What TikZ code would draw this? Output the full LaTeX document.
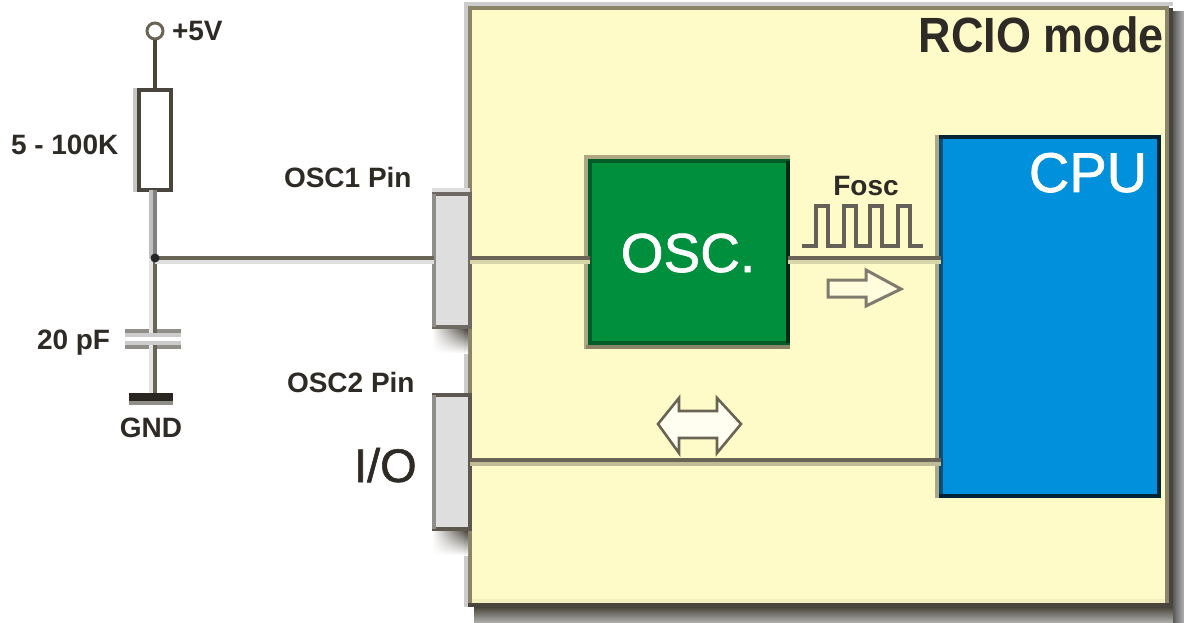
\documentclass[tikz,border=0pt]{standalone}
\usepackage{graphicx}
\usepackage{fontspec}
\setmainfont{Liberation Sans}
\newfontfamily\medfont[FakeBold=1.2]{Liberation Sans}
\usetikzlibrary{fadings}
\definecolor{boxyellow}{HTML}{FFFBC8}
\definecolor{edgeolive}{HTML}{8A8468}
\definecolor{edgepale}{HTML}{ADA783}
\definecolor{edgedark}{HTML}{4A453C}
\definecolor{wirecol}{HTML}{6A6456}
\definecolor{pingrey}{HTML}{DEDEDE}
\definecolor{pinedge}{HTML}{908E88}
\definecolor{oscgreen}{HTML}{008F3C}
\definecolor{cpublue}{HTML}{0090DC}
\definecolor{txt}{HTML}{2E2A26}
\newcommand{\fsz}[1]{\fontsize{#1}{#1}\selectfont}
\tikzset{
  x=1pt,y=-1pt,
  blockbox/.style={draw,anchor=north west,inner sep=0pt,outer sep=0pt,rectangle,line width=4pt},
  wire/.style={draw=wirecol,line width=4pt},
  lowglow/.style={preaction={draw=#1,line width=4pt,transform canvas={yshift=-4pt}}},
  leftglow/.style={preaction={draw=#1,line width=4pt,transform canvas={xshift=-4pt}}},
  strip/.style={line width=4pt,draw=#1},
  lab/.style={inner sep=0pt,outer sep=0pt,text=txt,font=\fsz{28}\bfseries},
  hollow/.style={draw=#1,line join=miter},
  plate/.style={anchor=north west,inner sep=0pt,outer sep=0pt,rectangle,fill=pinedge,minimum width=56pt,minimum height=4pt},
  platesoft/.style={fill=black!20},
}
\begin{document}
\begin{tikzpicture}
\useasboundingbox (0,0) rectangle (1184,623);
\fill[white] (0,0) rectangle (1184,623);
% soft outer bands and shadows of the main box
\fill[black!20] (464,2) rectangle (1173,6);
\fill[black!20] (464,2) rectangle (468,607);
\shade[top color=edgedark,bottom color=black!30] (474,607) rectangle (1184,623);
\shade[left color=black!65,right color=black!30] (1173,12) rectangle (1184,623);
% main yellow box
\node[blockbox,draw=edgeolive,fill=boxyellow,minimum width=697pt,minimum height=593pt] (main) at (470,8) {};
\draw[strip=boxyellow!90!edgeolive] (main.south west) ++(2,0) -- ([xshift=-2pt]main.south east);
\draw[strip=edgedark] (1171,8) -- (1171,607);
\draw[strip=edgedark] (468,605) -- (1173,605);
% pin shadows
\shade[top color=edgedark,bottom color=white,path fading=west] (432,329) rectangle (468,353);
\shade[top color=edgedark,bottom color=white,path fading=west] (432,531) rectangle (468,555);
% pins
\fill[black!13] (432,188) rectangle (470,192);
\node[blockbox,draw=edgedark!80,fill=pingrey,minimum width=36pt,minimum height=133pt] (pina) at (434,194) {};
\draw[strip=pinedge] (pina.north west) -- (pina.south west);
\node[blockbox,draw=edgedark!90,fill=pingrey,minimum width=36pt,minimum height=134pt] (pinb) at (434,395) {};
\draw[strip=pinedge] (pinb.north west) -- (pinb.south west);
% OSC block
\node[blockbox,draw=black!35!oscgreen,fill=oscgreen,minimum width=198pt,minimum height=182pt] (osc) at (590,161) {};
\draw[strip=black!70!oscgreen] (osc.north east) -- (osc.south east);
\draw[strip=edgepale] (584,157) -- (790,157);
\draw[strip=edgepale] (586,155) -- (586,349);
\draw[strip=edgeolive] (586,347) -- (790,347);
% CPU block
\node[blockbox,draw=black!45!cpublue,fill=cpublue,minimum width=218pt,minimum height=359pt] (cpu) at (941,137) {};
\draw[strip=black!75!cpublue,line cap=rect] (cpu.north west) -- (cpu.north east) -- (cpu.south east) -- (cpu.south west);
\draw[strip=edgepale] (937,135) -- (937,498);
% circuit parts
\node[circle,draw=wirecol,line width=3pt,fill=white,inner sep=0pt,minimum size=16pt] (vcc) at (155,31) {};
\fill[black!22] (133,88) rectangle (137,192);
\node[blockbox,draw=edgedark,fill=white,minimum width=32pt,minimum height=100pt] (res) at (139,90) {};
\coordinate (jn) at (155,258);
\node[plate] (capa) at (125,329) {};
\fill[platesoft] (capa.south west) rectangle ([yshift=-4pt]capa.south east);
\node[plate] (capb) at (125,345) {};
\fill[platesoft] (capb.north west) rectangle ([yshift=4pt]capb.north east);
\node[anchor=north west,inner sep=0pt,outer sep=0pt,rectangle,fill=black!45!edgedark,minimum width=44pt,minimum height=8pt] (gndbar) at (129,393) {};
\fill[pinedge] (gndbar.south west) rectangle ([yshift=-4pt]gndbar.south east);
% connectors
\draw[wire,draw=edgedark] (vcc.south) -- (res.north);
\draw[wire,draw=black!50,leftglow=black!25] (res.south) -- (jn);
\draw[wire,leftglow=black!10] (jn) -- (jn |- capa.south);
\draw[wire,leftglow=black!10] (jn |- capb.north) -- (jn |- gndbar.north);
\draw[wire,lowglow=black!13] (jn) -- (jn -| pina.west);
\draw[wire,lowglow=boxyellow!85!black] (pina.east |- jn) -- (osc.west |- jn);
\draw[wire,lowglow=boxyellow!85!black] (osc.east |- jn) -- (cpu.west |- jn);
\draw[wire,lowglow=boxyellow!75!black] (pinb.east |- 0,460) -- (cpu.west |- 0,460);
\fill[black!85] (jn) circle (4.5pt);
% waveform
\coordinate (wa) at (802,246);
\coordinate (wb) at (923,246);
\draw[draw=edgedark!85,line width=3.4pt,line join=miter]
  (wa) -- (816,246) -- (816,206) -- (828,206) -- (828,246) -- (844,246) -- (844,206) -- (856,206) -- (856,246)
  -- (870,246) -- (870,206) -- (882,206) -- (882,246) -- (898,246) -- (898,206) -- (910,206) -- (910,246) -- (wb);
% open arrows
\draw[hollow=wirecol!85,line width=3pt,fill=boxyellow!60!white] (828,280) -- (866,280) -- (866,270) -- (901,289) -- (866,306) -- (866,297) -- (828,297) -- cycle;
\draw[hollow=wirecol,line width=2.6pt,fill=boxyellow!25!white] (658,424) -- (679,398) -- (679,411) -- (717,411) -- (717,398) -- (741,424) -- (717,453) -- (717,438) -- (679,438) -- (679,453) -- cycle;
% labels
\node[lab,anchor=base west] (vlab) at (172,41) {+5V};
\node[lab,anchor=base west] (rlab) at (11,155) {5 - 100K};
\node[lab,anchor=base west] (clab) at (37,349) {20 pF};
\node[lab,anchor=base] (glab) at (151,437) {GND};
\node[lab,anchor=base west] (alab) at (284,188) {OSC1 Pin};
\node[lab,anchor=base west] (blab) at (287,392) {OSC2 Pin};
\node[lab,anchor=base west,font=\fsz{47}\medfont] (iolab) at (354,482) {I/O};
\node[lab,anchor=base east,font=\fsz{45}\bfseries] (mode) at (1164,53) {\scalebox{1}[1.1]{RCIO mode}};
\node[lab,anchor=base,text=white,font=\fsz{55}\medfont] (osclab) at (688,272) {OSC.};
\node[lab,anchor=base,text=white,font=\fsz{56}\medfont] (cpulab) at (1088,192) {CPU};
\node[lab,anchor=base] (fosc) at (866,196) {Fosc};
\end{tikzpicture}
\end{document}
